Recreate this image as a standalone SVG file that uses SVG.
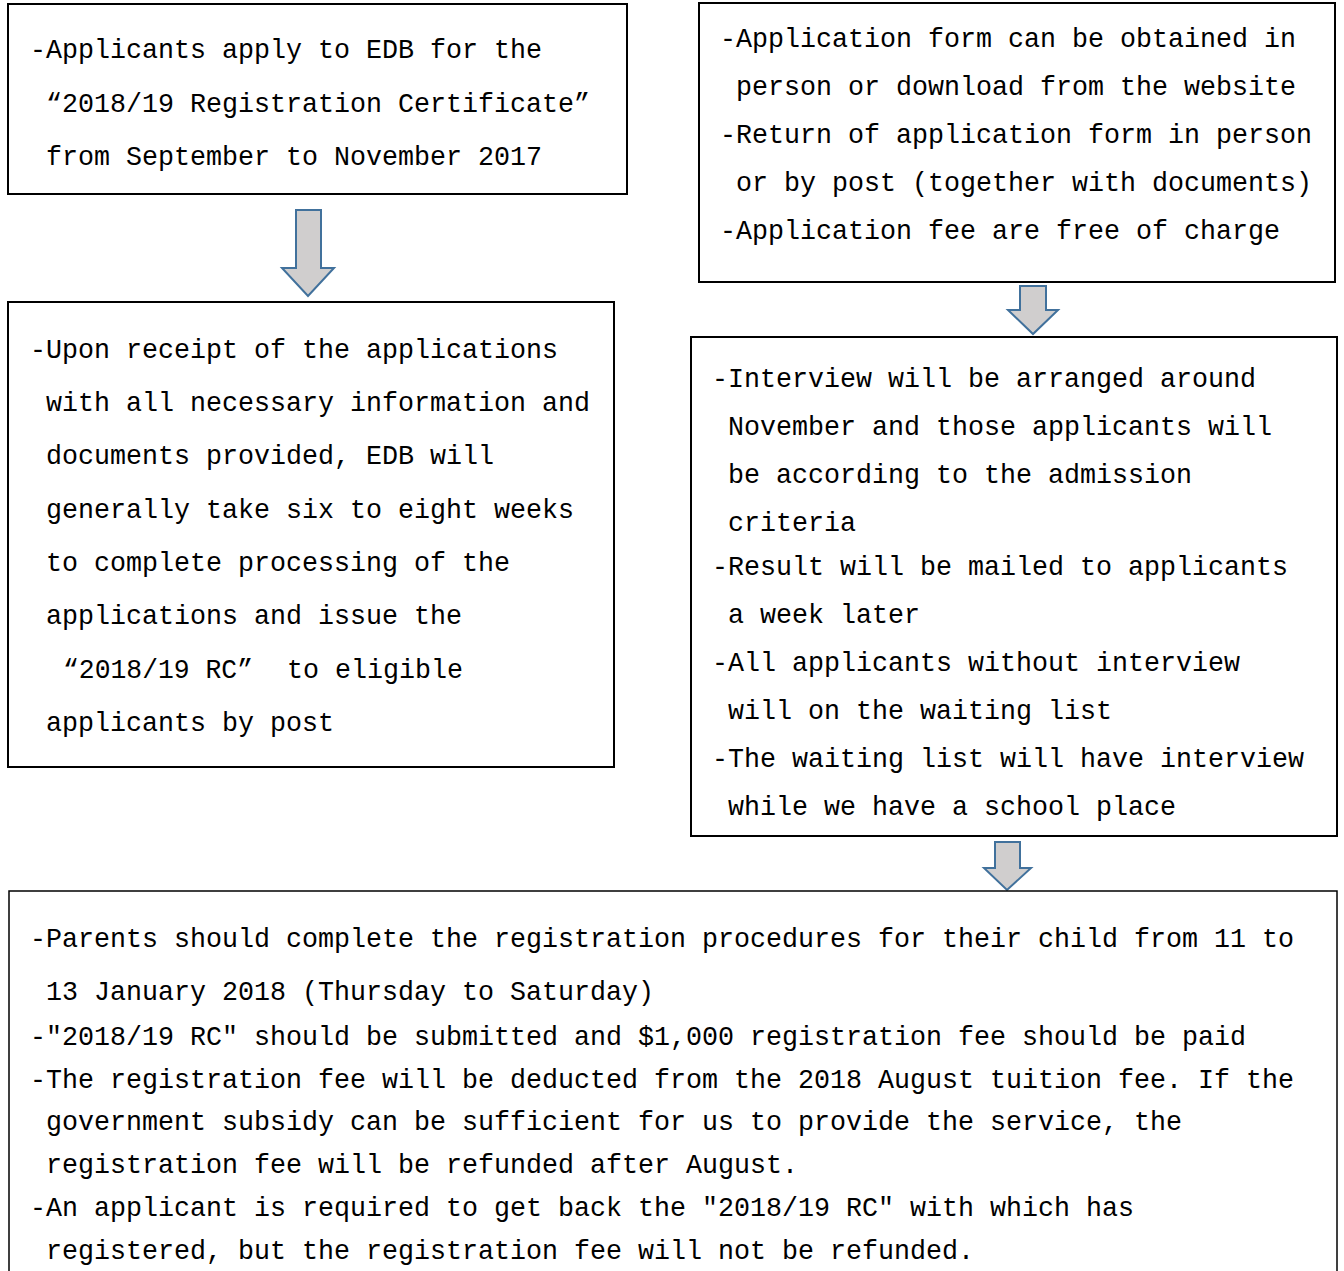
<svg xmlns="http://www.w3.org/2000/svg" width="1344" height="1271" viewBox="0 0 1344 1271">
<style>
.box{fill:#fff;stroke:#000;stroke-width:2}
.t{font-family:"Liberation Mono","DejaVu Sans Mono",monospace;font-size:27.5px;fill:#000}
.arr{fill:#d0cece;stroke:#41719c;stroke-width:2;stroke-linejoin:miter}
</style>
<rect width="1344" height="1271" fill="#fff"/>
<g id="connectors">
<path class="arr" d="M296,210 H321 V268 H334 L308,296 L282,268 H296 Z"/>
<path class="arr" d="M1020,286 H1046 V310 H1058 L1033,334 L1008,310 H1020 Z"/>
<path class="arr" d="M995,842 H1020 V868 H1031 L1007,890 L984,868 H995 Z"/>
</g>
<g id="node1">
<rect class="box" x="8" y="4" width="619" height="190"/>
<text class="t" x="30" y="58" textLength="512" lengthAdjust="spacingAndGlyphs">-Applicants apply to EDB for the</text>
<text class="t" x="46" y="112" textLength="544" lengthAdjust="spacingAndGlyphs">“2018/19 Registration Certificate”</text>
<text class="t" x="46" y="165" textLength="496" lengthAdjust="spacingAndGlyphs">from September to November 2017</text>
</g>
<g id="node2">
<rect class="box" x="8" y="302" width="606" height="465"/>
<text class="t" x="30" y="358" textLength="528" lengthAdjust="spacingAndGlyphs">-Upon receipt of the applications</text>
<text class="t" x="46" y="411" textLength="544" lengthAdjust="spacingAndGlyphs">with all necessary information and</text>
<text class="t" x="46" y="464" textLength="448" lengthAdjust="spacingAndGlyphs">documents provided, EDB will</text>
<text class="t" x="46" y="518" textLength="528" lengthAdjust="spacingAndGlyphs">generally take six to eight weeks</text>
<text class="t" x="46" y="571" textLength="464" lengthAdjust="spacingAndGlyphs">to complete processing of the</text>
<text class="t" x="46" y="624" textLength="416" lengthAdjust="spacingAndGlyphs">applications and issue the</text>
<text class="t" x="63" y="678" textLength="190" lengthAdjust="spacingAndGlyphs">“2018/19 RC”</text>
<text class="t" x="287" y="678" textLength="176" lengthAdjust="spacingAndGlyphs">to eligible</text>
<text class="t" x="46" y="731" textLength="288" lengthAdjust="spacingAndGlyphs">applicants by post</text>
</g>
<g id="node3">
<rect class="box" x="699" y="3" width="636" height="279"/>
<text class="t" x="720" y="47" textLength="576" lengthAdjust="spacingAndGlyphs">-Application form can be obtained in</text>
<text class="t" x="736" y="95" textLength="560" lengthAdjust="spacingAndGlyphs">person or download from the website</text>
<text class="t" x="720" y="143" textLength="592" lengthAdjust="spacingAndGlyphs">-Return of application form in person</text>
<text class="t" x="736" y="191" textLength="576" lengthAdjust="spacingAndGlyphs">or by post (together with documents)</text>
<text class="t" x="720" y="239" textLength="560" lengthAdjust="spacingAndGlyphs">-Application fee are free of charge</text>
</g>
<g id="node4">
<rect class="box" x="691" y="337" width="646" height="499"/>
<text class="t" x="712" y="387" textLength="544" lengthAdjust="spacingAndGlyphs">-Interview will be arranged around</text>
<text class="t" x="728" y="435" textLength="544" lengthAdjust="spacingAndGlyphs">November and those applicants will</text>
<text class="t" x="728" y="483" textLength="464" lengthAdjust="spacingAndGlyphs">be according to the admission</text>
<text class="t" x="728" y="531" textLength="128" lengthAdjust="spacingAndGlyphs">criteria</text>
<text class="t" x="712" y="575" textLength="576" lengthAdjust="spacingAndGlyphs">-Result will be mailed to applicants</text>
<text class="t" x="728" y="623" textLength="192" lengthAdjust="spacingAndGlyphs">a week later</text>
<text class="t" x="712" y="671" textLength="528" lengthAdjust="spacingAndGlyphs">-All applicants without interview</text>
<text class="t" x="728" y="719" textLength="384" lengthAdjust="spacingAndGlyphs">will on the waiting list</text>
<text class="t" x="712" y="767" textLength="592" lengthAdjust="spacingAndGlyphs">-The waiting list will have interview</text>
<text class="t" x="728" y="815" textLength="448" lengthAdjust="spacingAndGlyphs">while we have a school place</text>
</g>
<g id="node5">
<rect class="box" x="9" y="891" width="1328" height="420" style="stroke-width:1.5"/>
<text class="t" x="30" y="947" textLength="1264" lengthAdjust="spacingAndGlyphs">-Parents should complete the registration procedures for their child from 11 to</text>
<text class="t" x="46" y="1000" textLength="608" lengthAdjust="spacingAndGlyphs">13 January 2018 (Thursday to Saturday)</text>
<text class="t" x="30" y="1045" textLength="1216" lengthAdjust="spacingAndGlyphs">-"2018/19 RC" should be submitted and $1,000 registration fee should be paid</text>
<text class="t" x="30" y="1088" textLength="1264" lengthAdjust="spacingAndGlyphs">-The registration fee will be deducted from the 2018 August tuition fee. If the</text>
<text class="t" x="46" y="1130" textLength="1136" lengthAdjust="spacingAndGlyphs">government subsidy can be sufficient for us to provide the service, the</text>
<text class="t" x="46" y="1173" textLength="752" lengthAdjust="spacingAndGlyphs">registration fee will be refunded after August.</text>
<text class="t" x="30" y="1216" textLength="1104" lengthAdjust="spacingAndGlyphs">-An applicant is required to get back the "2018/19 RC" with which has</text>
<text class="t" x="46" y="1259" textLength="928" lengthAdjust="spacingAndGlyphs">registered, but the registration fee will not be refunded.</text>
</g>
</svg>
